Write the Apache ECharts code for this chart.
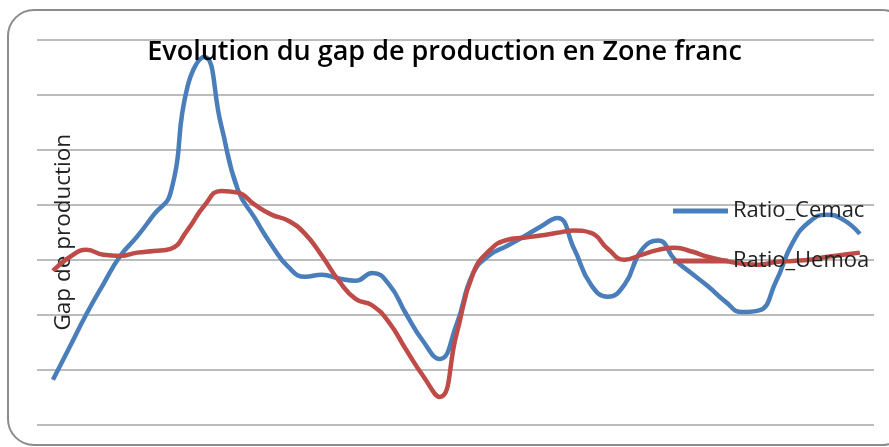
<!DOCTYPE html>
<html>
<head>
<meta charset="utf-8">
<script src="https://cdn.jsdelivr.net/npm/echarts@6/dist/echarts.min.js"></script>
<style>
  html, body { margin: 0; padding: 0; background: #fff; }
  #chart { width: 889px; height: 447px; }
</style>
</head>
<body>
<div id="chart"></div>
<script>
// valeurs (périodes successives)
const seriesNames = ["Ratio_Cemac", "Ratio_Uemoa"];
const ratioCemac = [
  -2.18, -1.58, -0.98, -0.44, 0.07, 0.42, 0.82, 1.22, 3.14, 3.68,
  2.45, 1.27, 0.76, 0.27, -0.13, -0.31, -0.27, -0.34, -0.38, -0.24,
  -0.45, -0.98, -1.47, -1.80, -1.18, -0.24, 0.09, 0.25, 0.42, 0.60,
  0.76, 0.20, -0.45, -0.67, -0.45, 0.17, 0.35, 0.00, -0.25, -0.49,
  -0.76, -0.95, -0.92, -0.40, 0.31, 0.69, 0.82, 0.73, 0.47
];
const ratioUemoa = [
  -0.20, 0.05, 0.18, 0.09, 0.07, 0.13, 0.16, 0.20, 0.54, 0.98,
  1.25, 1.22, 1.00, 0.82, 0.71, 0.47, 0.07, -0.38, -0.71, -0.83,
  -1.14, -1.63, -2.10, -2.49, -1.36, -0.24, 0.18, 0.36, 0.40, 0.44,
  0.49, 0.53, 0.49, 0.20, 0.00, 0.09, 0.18, 0.22, 0.15, 0.05,
  -0.02, -0.07, -0.09, -0.04, -0.02, 0.00, 0.05, 0.09, 0.13
];

const chart = echarts.init(document.getElementById("chart"));

const toPairs = (arr) => arr.map((v, i) => [i, v]);

const option = {
  animation: false,
  backgroundColor: "#fff",
  graphic: [
    {
      type: "rect",
      shape: { x: 8, y: 10, width: 900, height: 435, r: 26 },
      style: { fill: "none", stroke: "#8c8c8c", lineWidth: 2 },
      z: -1
    }
  ],
  title: {
    text: "Evolution du gap de production en Zone franc",
    left: "center",
    top: 34,
    textStyle: {
      fontFamily: "Open Sans",
      fontWeight: 600,
      fontSize: 27,
      color: "#000"
    }
  },
  legend: {
    orient: "vertical",
    left: 668,
    top: 195,
    itemGap: 28,
    itemWidth: 55,
    itemHeight: 5,
    icon: "rect",
    data: seriesNames,
    textStyle: {
      fontFamily: "Open Sans",
      fontSize: 22,
      color: "#222",
      padding: [0, 0, 0, 0]
    }
  },
  grid: { left: 37, right: 15, top: 39.5, bottom: 22 },
  xAxis: {
    type: "value",
    min: -0.95,
    max: 48.84,
    show: false
  },
  yAxis: {
    type: "value",
    min: -3,
    max: 4,
    interval: 1,
    name: "Gap de production",
    nameLocation: "middle",
    nameGap: -38,
    nameTextStyle: {
      fontFamily: "Open Sans",
      fontSize: 22.5,
      color: "#222"
    },
    axisLine: { show: false },
    axisTick: { show: false },
    axisLabel: { show: false },
    splitLine: { lineStyle: { color: "#a6a6a6", width: 1.5 } }
  },
  series: [
    {
      name: seriesNames[0],
      type: "line",
      data: toPairs(ratioCemac),
      smooth: 0.5,
      showSymbol: false,
      lineStyle: { color: "#4a7ebb", width: 4.5 },
      itemStyle: { color: "#4a7ebb" }
    },
    {
      name: seriesNames[1],
      type: "line",
      data: toPairs(ratioUemoa),
      smooth: 0.5,
      showSymbol: false,
      lineStyle: { color: "#be4b48", width: 4.5 },
      itemStyle: { color: "#be4b48" }
    }
  ]
};

chart.setOption(option);
</script>
</body>
</html>
